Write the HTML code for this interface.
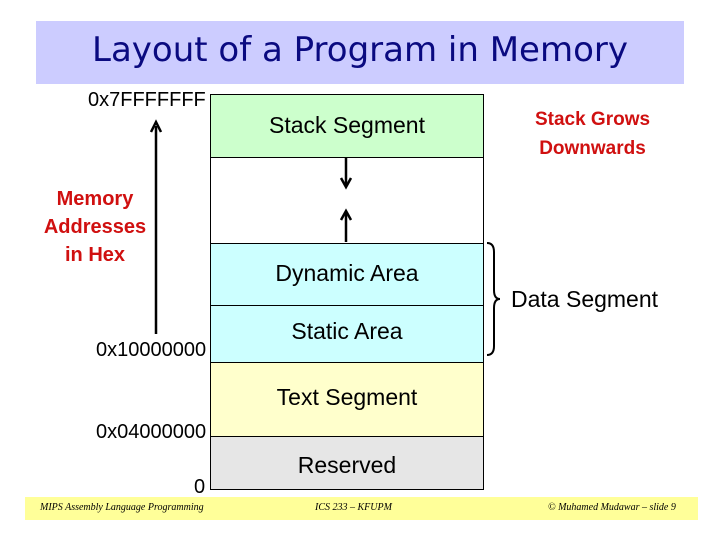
<!DOCTYPE html>
<html><head><style>
body{margin:0;width:720px;height:540px;background:#fff;position:relative;overflow:hidden;font-family:"Liberation Sans",sans-serif}
.a{position:absolute}
.t{position:absolute;white-space:nowrap}
</style></head><body>
<div class="a" style="left:36px;top:21px;width:648px;height:63px;background:#ccccff"></div>
<div class="t" style="left:36px;width:648px;top:30px;text-align:center;font-size:34px;color:#0a0a80;font-family:'DejaVu Sans','Liberation Sans',sans-serif">Layout of a Program in Memory</div>

<svg class="a" style="left:0;top:0" width="720" height="540">
<g stroke="#000" stroke-width="1">
<rect x="210.5" y="94.5" width="273" height="63" fill="#ccffcc"/>
<rect x="210.5" y="157.5" width="273" height="86" fill="#fff"/>
<rect x="210.5" y="243.5" width="273" height="62" fill="#ccffff"/>
<rect x="210.5" y="305.5" width="273" height="57" fill="#ccffff"/>
<rect x="210.5" y="362.5" width="273" height="74" fill="#ffffcc"/>
<rect x="210.5" y="436.5" width="273" height="53" fill="#e6e6e6"/>
</g>
<g stroke="#000" stroke-width="2.5" fill="none">
<line x1="156" y1="126" x2="156" y2="334"/>
<polyline points="151,132 156,122 161,132"/>
<line x1="346" y1="158" x2="346" y2="186"/>
<polyline points="341,178 346,187 351,178"/>
<line x1="346" y1="242" x2="346" y2="212"/>
<polyline points="341,220 346,211 351,220"/>
<path d="M487,243 Q494,243 494,252 L494,290 Q494,299 500,299 Q494,299 494,308 L494,346 Q494,355 487,355" stroke-width="2"/>
</g>
</svg>

<div class="t" style="left:210px;width:274px;text-align:center;top:112px;font-size:23px">Stack Segment</div>
<div class="t" style="left:210px;width:274px;text-align:center;top:260px;font-size:23px">Dynamic Area</div>
<div class="t" style="left:210px;width:274px;text-align:center;top:318px;font-size:23px">Static Area</div>
<div class="t" style="left:210px;width:274px;text-align:center;top:384px;font-size:23px">Text Segment</div>
<div class="t" style="left:210px;width:274px;text-align:center;top:452px;font-size:23px">Reserved</div>

<div class="t" style="left:88px;top:89px;font-size:20px">0x7FFFFFFF</div>
<div class="t" style="left:96px;top:339px;font-size:20px">0x10000000</div>
<div class="t" style="left:96px;top:421px;font-size:20px">0x04000000</div>
<div class="t" style="left:194px;top:476px;font-size:20px">0</div>
<div class="t" style="left:30px;width:130px;text-align:center;top:185px;font-size:20px;font-weight:bold;color:#d01010;line-height:28px">Memory<br>Addresses<br>in Hex</div>
<div class="t" style="left:510px;width:165px;text-align:center;top:105px;font-size:19px;font-weight:bold;color:#d01010;line-height:29px">Stack Grows<br>Downwards</div>
<div class="t" style="left:511px;top:286px;font-size:23px">Data Segment</div>

<div class="a" style="left:25px;top:497px;width:673px;height:23px;background:#ffff99"></div>
<div class="t" style="left:40px;top:502px;font-size:10px;font-style:italic;font-family:'Liberation Serif',serif">MIPS Assembly Language Programming</div>
<div class="t" style="left:315px;top:502px;font-size:10px;font-style:italic;font-family:'Liberation Serif',serif">ICS 233 – KFUPM</div>
<div class="t" style="left:548px;top:502px;font-size:10px;font-style:italic;font-family:'Liberation Serif',serif">© Muhamed Mudawar – slide 9</div>
</body></html>
